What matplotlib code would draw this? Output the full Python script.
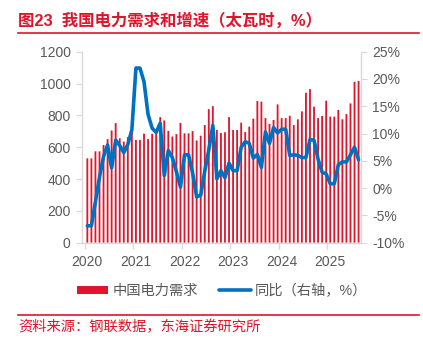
import numpy as np
import matplotlib
matplotlib.use("Agg")
import matplotlib.pyplot as plt
from matplotlib.lines import Line2D

plt.rcParams['font.family'] = ['Liberation Sans', 'Noto Sans CJK SC', 'DejaVu Sans']

# monthly demand (TWh), Jan 2020 - Aug 2025
demand = [530, 530, 574, 574, 614, 651, 705, 751, 656, 635, 663, 711,
          646, 646, 685, 651, 684, 685, 789, 768, 702, 667, 682, 752,
          687, 687, 701, 642, 672, 739, 839, 858, 709, 689, 694, 789,
          708, 708, 754, 695, 729, 779, 890, 886, 783, 746, 771, 869,
          783, 783, 798, 739, 775, 825, 942, 965, 854, 783, 796, 892,
          792, 792, 834, 775, 808, 875, 1011, 1016]
# year-on-year growth (%)
yoy = [-6.9, -6.9, -2.5, 2.0, 5.8, 7.9, 3.7, 8.8, 7.8, 6.5, 8.0, 10.7,
       22.0, 22.0, 19.5, 13.5, 11.0, 10.2, 11.9, 2.3, 6.9, 5.6, 3.0, 0.2,
       6.1, 6.1, 2.8, -1.6, -1.3, 3.1, 7.0, 11.5, 1.7, 3.2, 1.9, 4.6,
       3.2, 3.2, 7.5, 8.5, 8.2, 5.5, 6.2, 3.8, 10.3, 8.2, 11.1, 10.1,
       10.8, 10.8, 6.0, 6.1, 6.0, 5.6, 5.6, 8.9, 8.8, 5.3, 2.9, 2.6,
       0.8, 0.8, 4.3, 4.8, 4.8, 6.1, 7.5, 5.2]
years = ['2020', '2021', '2022', '2023', '2024', '2025']

red = '#E0142B'
blue = '#0070C0'
grey = '#595959'
spine = '#D9D9D9'

x = np.arange(len(demand))

fig = plt.figure(figsize=(4.23, 3.44), dpi=100)
ax = fig.add_axes([0.1931, 0.2945, 0.6603, 0.5552])
ax2 = ax.twinx()

bars = ax.bar(x, demand, width=0.45, color=red, label='中国电力需求')
for b in bars:
    b.set_snap(False)
ax2.plot(x, yoy, color=blue, lw=2.6, solid_joinstyle='round',
         solid_capstyle='round', label='同比（右轴，%）')

ax.set_xlim(-1.4, 67.6)
ax.set_ylim(0, 1200)
ax.set_yticks(range(0, 1201, 200))
ax2.set_ylim(-10, 25)
ax2.set_yticks(range(-10, 26, 5))
ax2.set_yticklabels([f'{v}%' for v in range(-10, 26, 5)])

ax.set_xticks(np.arange(len(years)) * 12)
ax.set_xticklabels(years)
ax.set_xticks(np.arange(len(years)) * 12 - 0.7, minor=True)
ax.tick_params(axis='x', which='major', length=0, pad=9)
ax.tick_params(axis='x', which='minor', length=4, color=spine, width=1)

for a in (ax, ax2):
    for s in a.spines.values():
        s.set_visible(False)
    a.tick_params(axis='both', labelsize=10, labelcolor=grey)
ax.spines['left'].set_visible(True)
ax.spines['bottom'].set_visible(True)
ax2.spines['right'].set_visible(True)
for s in (ax.spines['left'], ax.spines['bottom'], ax2.spines['right']):
    s.set_color(spine)
    s.set_linewidth(1)
ax.tick_params(axis='y', length=4, color=spine, pad=4)
ax2.tick_params(axis='y', length=4, color=spine, pad=4)

h1, l1 = ax.get_legend_handles_labels()
h2, l2 = ax2.get_legend_handles_labels()
fig.legend(h1 + h2, l1 + l2, loc='center', bbox_to_anchor=(0.525, 0.154),
           ncol=2, frameon=False, fontsize=10.3, labelcolor=grey,
           handlelength=2.2, handleheight=0.5, handletextpad=0.3,
           columnspacing=1.5)

fig.text(0.043, 0.942, '图23  我国电力需求和增速（太瓦时，%）', color=red,
         fontsize=11.8, fontweight='bold', va='center', ha='left')
fig.add_artist(Line2D([0.043, 0.99], [0.905, 0.905], color=red, lw=1.2))
fig.add_artist(Line2D([0.043, 0.99], [0.084, 0.084], color=red, lw=1.2))
fig.text(0.043, 0.049, '资料来源：钢联数据，东海证券研究所', color=red,
         fontsize=10.3, va='center', ha='left')

fig.savefig('out.png', dpi=100)
